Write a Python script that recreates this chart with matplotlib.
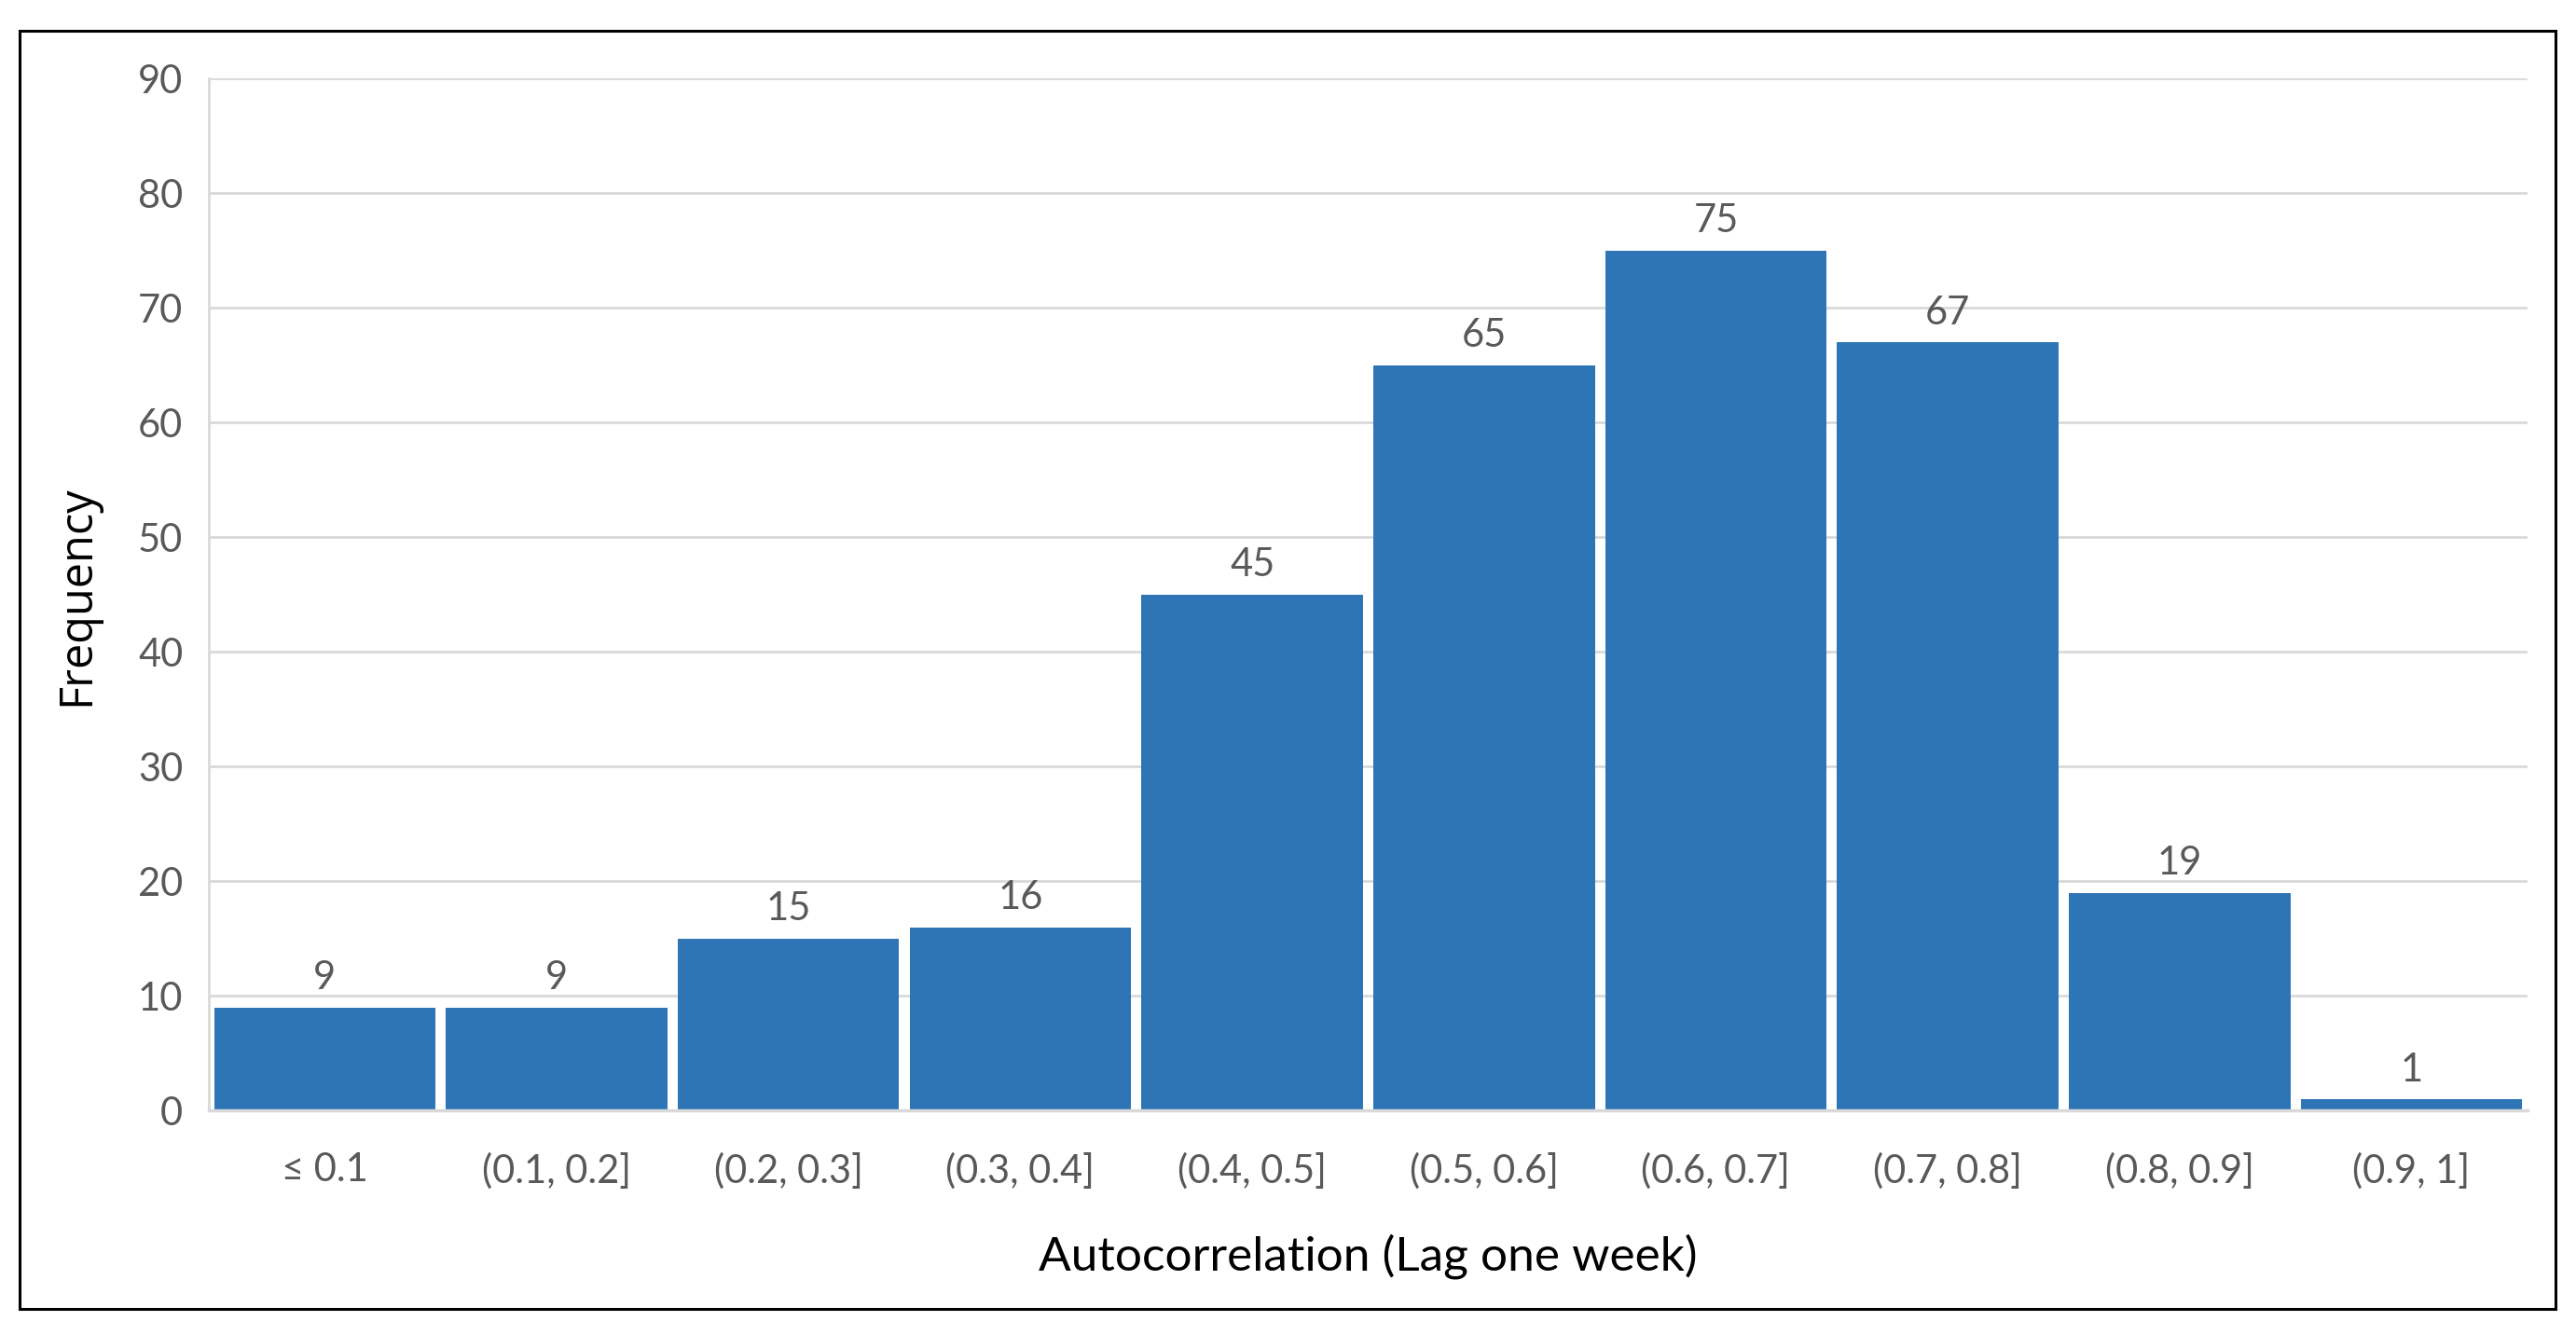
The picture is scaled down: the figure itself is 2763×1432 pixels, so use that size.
import matplotlib
matplotlib.use("Agg")
from matplotlib import pyplot as plt
from matplotlib.patches import Rectangle

# bins of lag-one-week autocorrelation and their counts
bins = ["≤ 0.1", "(0.1, 0.2]", "(0.2, 0.3]", "(0.3, 0.4]", "(0.4, 0.5]",
        "(0.5, 0.6]", "(0.6, 0.7]", "(0.7, 0.8]", "(0.8, 0.9]", "(0.9, 1]"]
counts = [9, 9, 15, 16, 45, 65, 75, 67, 19, 1]
y_ticks = [0, 10, 20, 30, 40, 50, 60, 70, 80, 90]

BAR = "#2E75B6"
GRID = "#D9D9D9"
TXT = "#595959"

plt.rcParams['font.family'] = ['Lato', 'DejaVu Sans']

fig = plt.figure(figsize=(27.63, 14.32), dpi=100)
ax = fig.add_axes([0.0811, 0.168, 0.9, 0.773])

x = list(range(len(bins)))
bars = ax.bar(x, counts, width=0.955, color=BAR, zorder=3)
ax.bar_label(bars, labels=[str(c) for c in counts], padding=9,
             fontsize=30, color=TXT)

ax.set_xlim(-0.5, len(bins) - 0.5)
ax.set_ylim(0, 90)
ax.set_yticks(y_ticks)
ax.set_xticks(x)
ax.set_xticklabels(bins)
ax.tick_params(axis='both', length=0, labelsize=30, labelcolor=TXT)
ax.tick_params(axis='x', pad=32)
ax.tick_params(axis='y', pad=20)

ax.yaxis.grid(True, color=GRID, linewidth=2, zorder=0)
ax.set_axisbelow(True)
for s in ['top', 'right']:
    ax.spines[s].set_visible(False)
ax.spines['left'].set_color(GRID)
ax.spines['left'].set_linewidth(2)
ax.spines['bottom'].set_color(GRID)
ax.spines['bottom'].set_linewidth(2.5)
ax.spines['bottom'].set_zorder(4)

fig.text(0.531, 0.059, "Autocorrelation (Lag one week)", fontsize=37,
         ha='center', va='center', color='black')
fig.text(0.030, 0.554, "Frequency", fontsize=35, family=['Open Sans', 'DejaVu Sans'],
         rotation=90, ha='center', va='center', color='black')

# black frame round the whole chart
fig.patches.append(Rectangle((0.0076, 0.0195), 0.9844, 0.9575, transform=fig.transFigure,
                             fill=False, edgecolor='black', linewidth=2.2))

fig.savefig("out.png", dpi=100, facecolor='white')
